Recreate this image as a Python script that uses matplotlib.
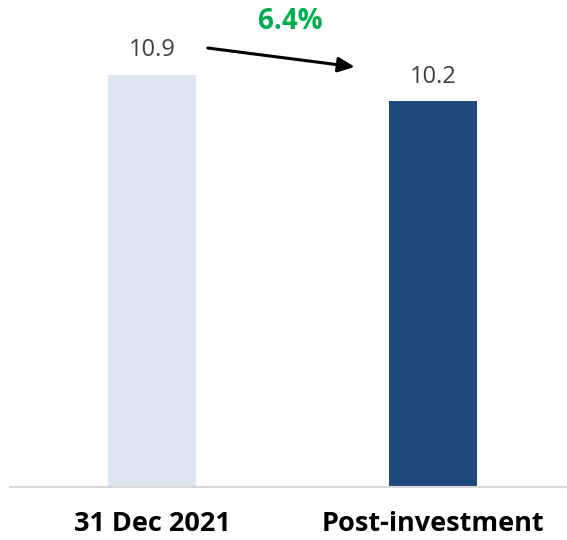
import matplotlib.pyplot as plt

categories = ['31 Dec 2021', 'Post-investment']
values = [10.9, 10.2]
bar_colors = ['#DCE6F2', '#1F497D']
change_label = '6.4%'

plt.rcParams['font.family'] = ['Open Sans', 'DejaVu Sans']

fig = plt.figure(figsize=(5.67, 5.4), dpi=100)
ax = fig.add_axes([10 / 567, 53 / 540, 557 / 567, 487 / 540])

x = list(range(len(categories)))
bars = ax.bar(x, values, width=0.313, color=bar_colors)

for b, v in zip(bars, values):
    ax.annotate(f'{v:.1f}', (b.get_x() + b.get_width() / 2, v),
                xytext=(0, 9), textcoords='offset points',
                ha='center', va='bottom', fontsize=17, color='#404040')

# arrow between the bars
ax.annotate('', xy=(0.722, 11.11), xytext=(0.199, 11.61),
            arrowprops=dict(arrowstyle='-|>,head_length=1.0,head_width=0.45',
                            color='black', lw=2.2, shrinkA=0, shrinkB=0))
ax.text(0.491, 12.30, change_label, ha='center', va='center',
        fontsize=20, fontweight='bold', color='#00B050')

ax.set_xlim(-0.505, 1.477)
ax.set_ylim(0, 12.88)
ax.set_xticks(x)
ax.set_xticklabels(categories, fontsize=19.5, fontweight='bold', color='black')
ax.tick_params(axis='x', length=0, pad=17)
ax.set_yticks([])
for s in ['top', 'right', 'left']:
    ax.spines[s].set_visible(False)
ax.spines['bottom'].set_color('#D9D9D9')
ax.spines['bottom'].set_linewidth(1.5)

fig.savefig('out.png', dpi=100)
